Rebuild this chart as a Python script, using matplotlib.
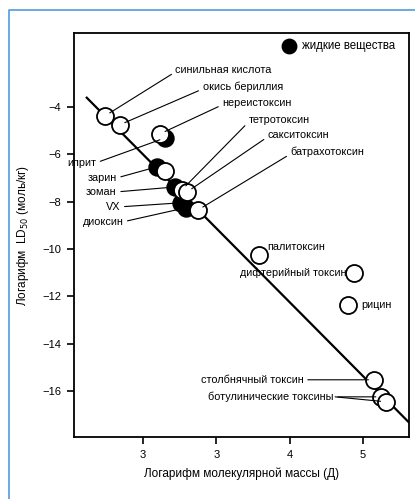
import matplotlib
matplotlib.use("Agg")
import matplotlib.pyplot as plt
from matplotlib.lines import Line2D

plt.rcParams['font.family'] = ['Liberation Sans', 'DejaVu Sans']

# жидкие вещества (чёрные кружки)
liquid_names = ['иприт', 'зарин', 'зоман', 'VX', 'диоксин']
liquid_x = [2.30, 2.19, 2.44, 2.51, 2.58]
liquid_y = [-5.31, -6.53, -7.38, -8.05, -8.26]

# остальные вещества (белые кружки)
solid_names = ['синильная кислота', 'окись бериллия', 'нереистоксин', '',
               'тетротоксин', 'сакситоксин', 'батрахотоксин', 'палитоксин',
               'дифтерийный токсин', 'рицин', 'столбнячный токсин',
               'ботулинические токсины', 'ботулинические токсины']
solid_x = [1.48, 1.68, 2.23, 2.30, 2.53, 2.60, 2.75, 3.575, 4.88, 4.80, 5.15, 5.25, 5.315]
solid_y = [-4.38, -4.76, -5.14, -6.70, -7.50, -7.59, -8.35, -10.24, -11.0, -12.35,
           -15.52, -16.24, -16.45]

# линия регрессии
fit_x = [1.22, 5.63]
fit_y = [-3.58, -17.33]

xticks = [2, 3, 4, 5]
xtick_labels = ['3', '3', '4', '5']
yticks = [-4, -6, -8, -10, -12, -14, -16]

fig = plt.figure(figsize=(4.15, 4.99), dpi=100)
ax = fig.add_axes([0.178, 0.124, 0.808, 0.810])

ax.plot(fit_x, fit_y, color='black', lw=1.6, zorder=1, solid_capstyle='butt')

# сначала чёрные, потом белые поверх
ax.scatter(liquid_x, liquid_y, s=150, c='black', edgecolors='black', linewidths=1.0,
           zorder=2, label='жидкие вещества')
ax.scatter(solid_x, solid_y, s=150, c='white', edgecolors='black', linewidths=1.3,
           zorder=3)

line_kw = dict(arrowstyle='-', color='black', lw=0.8, shrinkA=1, shrinkB=4)
fs = 7.8

# подписи справа сверху
upper = [
    ('синильная кислота', 2.44, -2.44, 1.48, -4.38),
    ('окись бериллия', 2.81, -3.16, 1.68, -4.76),
    ('нереистоксин', 3.08, -3.83, 2.23, -5.14),
    ('тетротоксин', 3.44, -4.55, 2.53, -7.50),
    ('сакситоксин', 3.70, -5.18, 2.60, -7.59),
    ('батрахотоксин', 4.01, -5.90, 2.75, -8.35),
]
for name, tx, ty, px, py in upper:
    ax.annotate(name, xy=(px, py), xytext=(tx, ty), ha='left', va='center',
                fontsize=fs, arrowprops=dict(relpos=(0, 0.3), **line_kw))

# подписи слева
left = [
    ('иприт', 1.36, -6.36, 2.30, -5.31),
    ('зарин', 1.64, -7.00, 2.19, -6.53),
    ('зоман', 1.64, -7.59, 2.44, -7.38),
    ('VX', 1.69, -8.22, 2.51, -8.05),
    ('диоксин', 1.73, -8.85, 2.58, -8.26),
]
for name, tx, ty, px, py in left:
    ax.annotate(name, xy=(px, py), xytext=(tx, ty), ha='right', va='center',
                fontsize=fs, arrowprops=dict(relpos=(1, 0.5), **line_kw))

ax.text(3.70, -9.91, 'палитоксин', ha='left', va='center', fontsize=fs)
ax.text(4.77, -11.0, 'дифтерийный токсин', ha='right', va='center', fontsize=fs)
ax.text(4.97, -12.35, 'рицин', ha='left', va='center', fontsize=fs)

ax.annotate('столбнячный токсин', xy=(5.15, -15.52), xytext=(4.19, -15.52),
            ha='right', va='center', fontsize=fs,
            arrowprops=dict(relpos=(1, 0.5), **line_kw))
ax.annotate('ботулинические токсины', xy=(5.25, -16.24), xytext=(4.60, -16.24),
            ha='right', va='center', fontsize=fs,
            arrowprops=dict(relpos=(1, 0.5), **line_kw))
ax.annotate('', xy=(5.315, -16.45), xytext=(4.62, -16.24),
            arrowprops=dict(arrowstyle='-', color='black', lw=0.8, shrinkA=0, shrinkB=4))

ax.set_xlim(1.055, 5.63)
ax.set_ylim(-17.94, -0.88)
ax.set_xticks(xticks)
ax.set_xticklabels(xtick_labels)
ax.set_yticks(yticks)
ax.tick_params(direction='out', length=5, width=1.2, labelsize=8, pad=4)
for sp in ax.spines.values():
    sp.set_linewidth(1.3)

ax.set_xlabel('Логарифм молекулярной массы (Д)', fontsize=8.5, labelpad=6)
ax.set_ylabel('Логарифм  LD$_{50}$ (моль/кг)', fontsize=8.5, labelpad=8)

ax.legend(loc='upper left', bbox_to_anchor=(0.612, 0.995), frameon=False,
          fontsize=8.3, handlelength=1.0, handletextpad=0.6, borderaxespad=0,
          markerscale=0.85, scatterpoints=1)

# голубая рамка
fig.add_artist(Line2D([9 / 415, 9 / 415, 1.0], [0.0, 1 - 10 / 499, 1 - 10 / 499],
                      transform=fig.transFigure, color='#5fa3e0', lw=1.3))

fig.savefig('out.png', dpi=100)
